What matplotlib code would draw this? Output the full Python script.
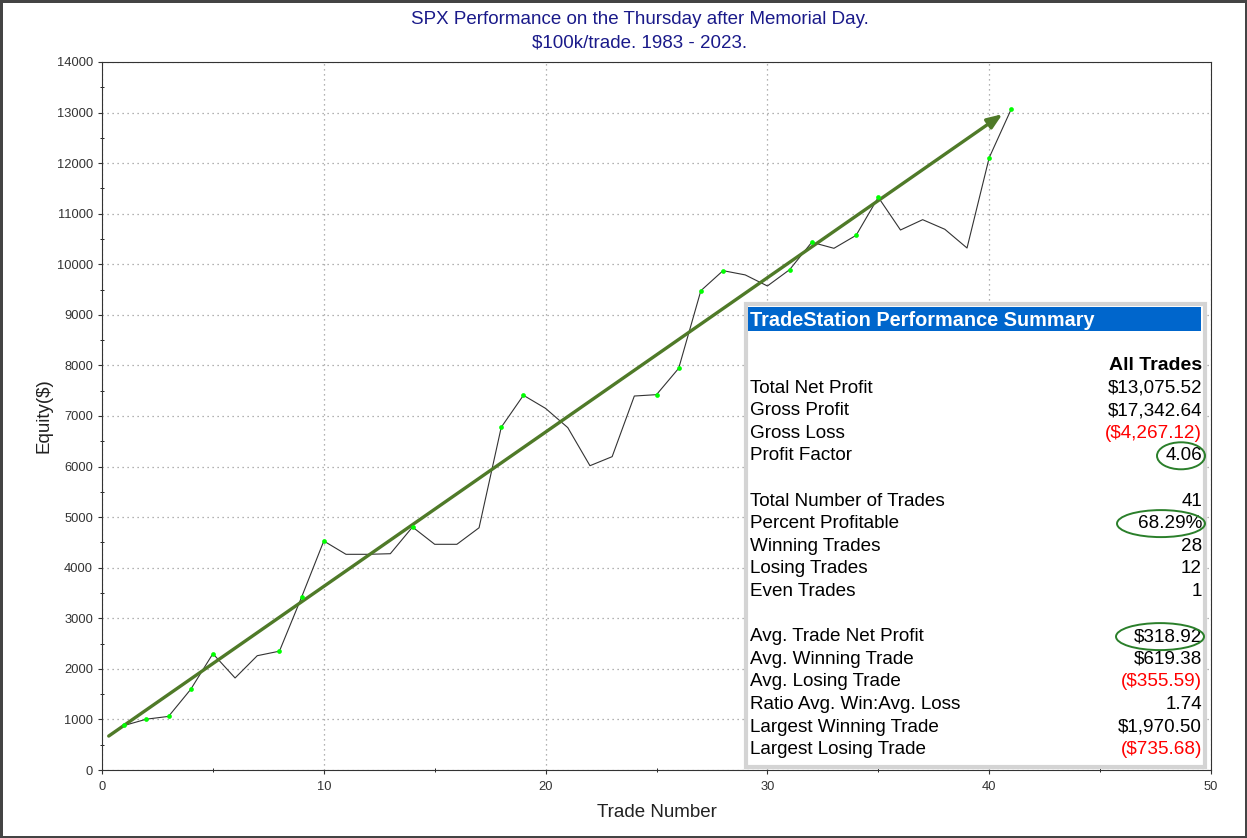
import numpy as np
import matplotlib as mpl
mpl.use('Agg')
import matplotlib.pyplot as plt
from matplotlib.patches import Ellipse, Rectangle

# equity curve (trade number -> cumulative equity in $)
trades = list(range(1, 42))
equity = [880, 1005, 1060, 1595, 2300, 1820, 2260, 2350, 3420, 4528,
          4265, 4265, 4277, 4805, 4463, 4463, 4790, 6777, 7410, 7150,
          6770, 6017, 6196, 7395, 7422, 7943, 9478, 9874, 9790, 9571,
          9893, 10435, 10316, 10573, 11325, 10678, 10882, 10692, 10322, 12108,
          13075]

# trend arrow end points (trade, equity)
arrow_x = [0.2, 40.7]
arrow_y = [640, 13000]

title_lines = ["SPX Performance on the Thursday after Memorial Day.", "$100k/trade. 1983 - 2023."]

summary_labels = ["Total Net Profit", "Gross Profit", "Gross Loss", "Profit Factor", "",
                  "Total Number of Trades", "Percent Profitable", "Winning Trades", "Losing Trades", "Even Trades", "",
                  "Avg. Trade Net Profit", "Avg. Winning Trade", "Avg. Losing Trade", "Ratio Avg. Win:Avg. Loss",
                  "Largest Winning Trade", "Largest Losing Trade"]
summary_values = ["$13,075.52", "$17,342.64", "($4,267.12)", "4.06", "",
                  "41", "68.29%", "28", "12", "1", "",
                  "$318.92", "$619.38", "($355.59)", "1.74", "$1,970.50", "($735.68)"]
# circled values: (value, ellipse centre x px, width px)
circled = {"4.06": (1181, 48), "68.29%": (1161, 88), "$318.92": (1160, 88)}

W, H = 1247, 838
fig = plt.figure(figsize=(W / 100, H / 100), dpi=100)
fig.patch.set_edgecolor('#444444')
fig.patch.set_linewidth(2.5)

def px(x, y):
    return x / W, 1 - y / H

ax = fig.add_axes([102 / W, 1 - 770 / H, (1211 - 102) / W, (770 - 62) / H])
eq = np.array(equity)
ax.plot(trades, eq, color='#333333', lw=0.8, zorder=3)
new_high = eq >= np.maximum.accumulate(eq)
ax.plot(np.array(trades)[new_high], eq[new_high], 'o', color='#00ff00', ms=3.4, mec='none', zorder=6)
ax.annotate('', xy=(arrow_x[1], arrow_y[1]), xytext=(arrow_x[0], arrow_y[0]),
            arrowprops=dict(arrowstyle='-|>,head_length=0.9,head_width=0.35', color='#4f7a28', lw=2.4), zorder=5)

ax.set_xlim(0, 50)
ax.set_ylim(0, 14000)
ax.set_xticks(range(0, 51, 10))
ax.set_xticks(range(0, 51, 5), minor=True)
ax.set_yticks(range(0, 14001, 1000))
ax.set_yticks(range(0, 14001, 500), minor=True)
ax.grid(True, which='major', color='#999999', ls=(0, (1, 3)), lw=0.9)
ax.tick_params(labelsize=9.3, length=3, direction='out', labelcolor='#333333', color='#333333')
ax.tick_params(which='minor', length=3, direction='inout')
ax.tick_params(axis='x', pad=5)
for s in ax.spines.values():
    s.set_color('#333333')
ax.set_xlabel("Trade Number", fontsize=13.5, family='Liberation Sans', labelpad=8, color='#222222')
ax.set_ylabel("Equity($)", fontsize=13.5, family='Liberation Sans', labelpad=3, color='#222222')
for lab in ax.get_xticklabels() + ax.get_yticklabels():
    lab.set_family('Liberation Sans')

fig.text(*px(640, 20), title_lines[0], ha='center', va='center', color='#1a1a8a', fontsize=13.5, family='Liberation Sans')
fig.text(*px(640, 43), title_lines[1], ha='center', va='center', color='#1a1a8a', fontsize=13.5, family='Liberation Sans')

# summary box
x0, y0, x1, y1 = 746, 304, 1205, 767
fig.patches.append(Rectangle(px(x0, y1), (x1 - x0) / W, (y1 - y0) / H, transform=fig.transFigure,
                             facecolor='white', edgecolor='#d4d4d4', lw=3, zorder=10))
fig.patches.append(Rectangle(px(748, 331), (1201 - 748) / W, (331 - 307) / H, transform=fig.transFigure,
                             facecolor='#0066cc', edgecolor='none', zorder=11))
font = dict(family='Liberation Sans', fontsize=13.6, zorder=12)
fig.text(*px(750, 320), "TradeStation Performance Summary", color='white', va='center', weight='bold',
         family='Liberation Sans', fontsize=14.3, zorder=12)
fig.text(*px(1202, 365), "All Trades", ha='right', va='center', weight='bold',
         family='Liberation Sans', fontsize=14, zorder=12)
for i, (lab, val) in enumerate(zip(summary_labels, summary_values)):
    yy = 388 + i * 22.6
    if not lab:
        continue
    fig.text(*px(750, yy), lab, va='center', **font)
    col = 'red' if val.startswith('(') else 'black'
    fig.text(*px(1202, yy), val, va='center', ha='right', color=col, **font)
    if val in circled:
        cx, wpx = circled[val]
        fig.patches.append(Ellipse(px(cx, yy), wpx / W, 27 / H, transform=fig.transFigure,
                                   facecolor='none', edgecolor='#2a7f2a', lw=1.4, zorder=13))

fig.savefig('out.png', dpi=100)
